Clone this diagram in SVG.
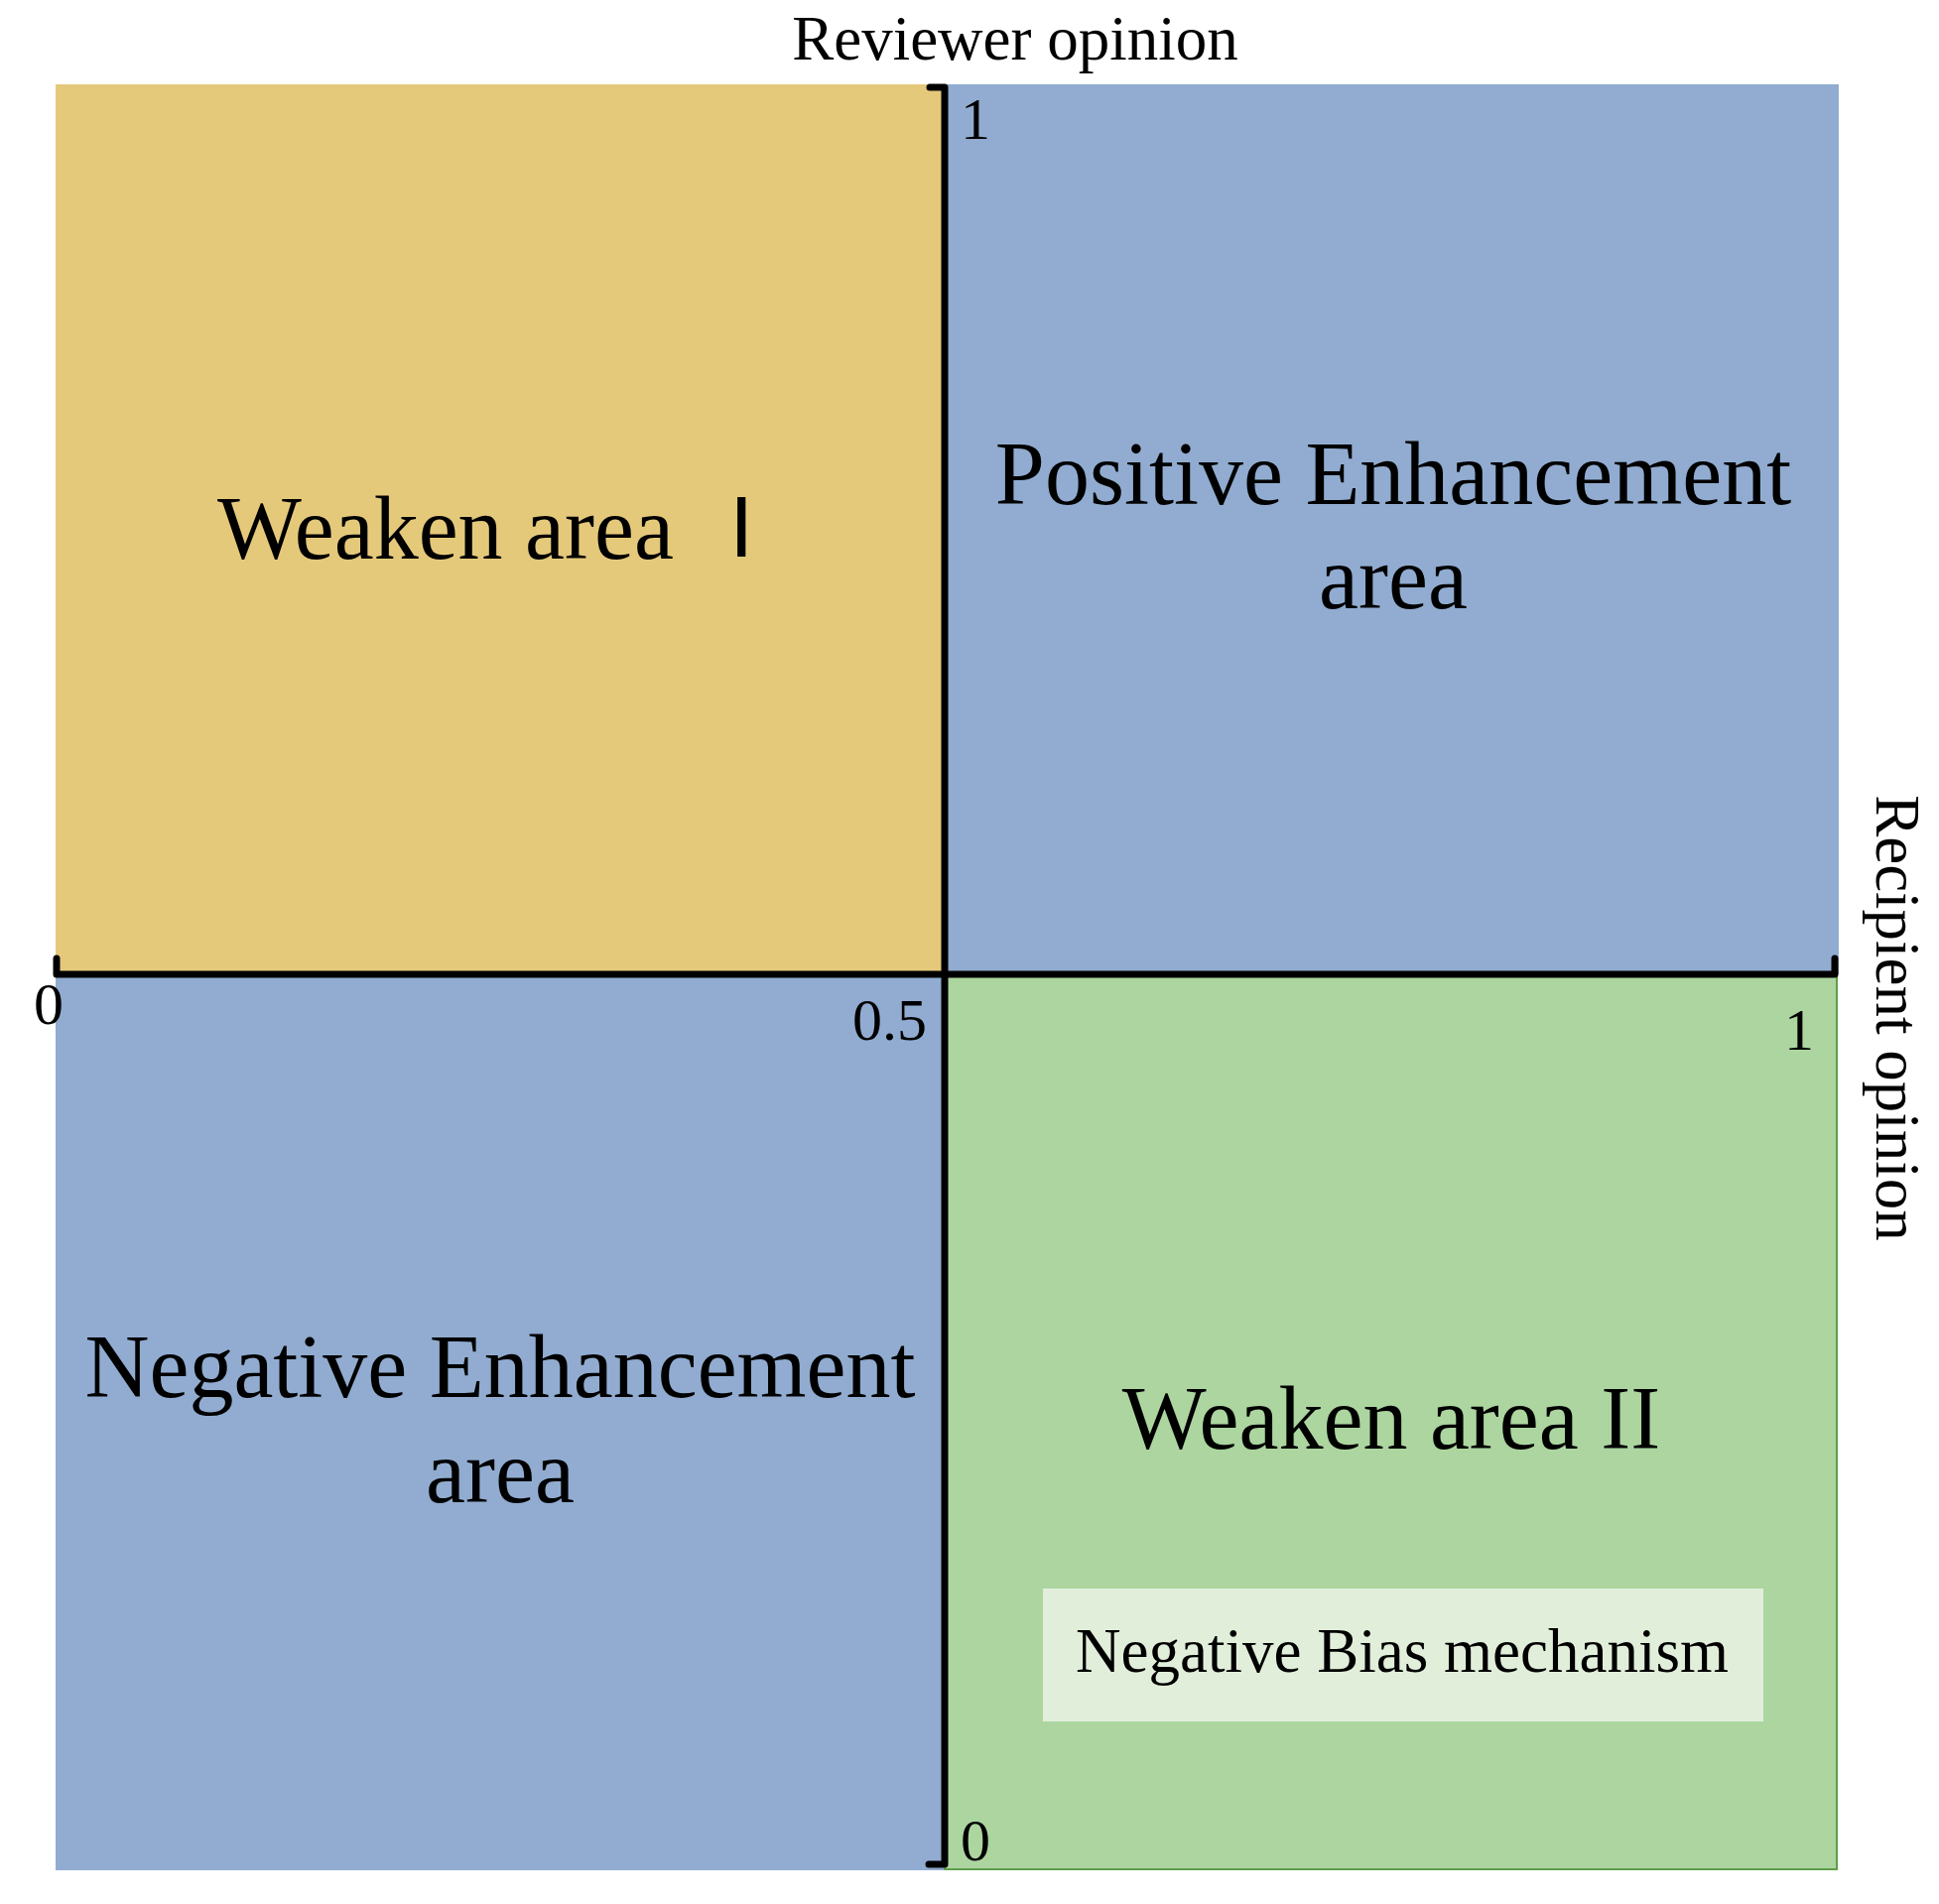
<svg xmlns="http://www.w3.org/2000/svg" width="1954" height="1919" viewBox="0 0 1954 1919">
<style>
.t{font-family:"Liberation Serif","Times New Roman",serif;fill:#000}
.big{font-size:90px}
.mid{font-size:63px}
.tick{font-size:60px}
.axis{fill:none;stroke:#000;stroke-width:7;stroke-linecap:round;stroke-linejoin:round}
</style>
<rect width="1954" height="1919" fill="#fff"/>
<g id="q-weaken1">
<rect x="56" y="85" width="896" height="897" fill="#E5C97B"/>
<text class="t big" x="219" y="563">Weaken area</text>
<text x="735" y="561" style="font-family:'Liberation Sans',Arial,sans-serif;font-size:88px;fill:#000">I</text>
</g>
<g id="q-positive">
<rect x="952" y="85" width="901" height="897" fill="#91ACD0"/>
<text class="t big" x="1404" y="508" text-anchor="middle">Positive Enhancement</text>
<text class="t big" x="1404" y="613" text-anchor="middle">area</text>
</g>
<g id="q-negative">
<rect x="56" y="982" width="896" height="903" fill="#91ACD0"/>
<text class="t big" x="504" y="1408" text-anchor="middle">Negative Enhancement</text>
<text class="t big" x="504" y="1514" text-anchor="middle">area</text>
</g>
<g id="q-weaken2">
<rect x="952" y="982" width="899" height="902" fill="#ACD5A0" stroke="#5E9E4C" stroke-width="2"/>
<text class="t big" x="1402" y="1460" text-anchor="middle">Weaken area II</text>
</g>
<g id="negative-bias">
<rect x="1051" y="1601" width="726" height="134" fill="#E1EFDA"/>
<text class="t mid" x="1413" y="1685" text-anchor="middle">Negative Bias mechanism</text>
</g>
<g id="connectors">
<path class="axis" d="M937,88 H952 V1879 H936"/>
<path class="axis" d="M57,966 V982 H1849 V966"/>
</g>
<g id="labels">
<text class="t mid" x="1023" y="60" text-anchor="middle">Reviewer opinion</text>
<text class="t mid" transform="translate(1891,1026) rotate(90)" text-anchor="middle">Recipient opinion</text>
<text class="t tick" x="968" y="140">1</text>
<text class="t tick" x="34" y="1032">0</text>
<text class="t tick" x="934" y="1048" text-anchor="end">0.5</text>
<text class="t tick" x="1828" y="1058" text-anchor="end">1</text>
<text class="t tick" x="968" y="1875">0</text>
</g>
</svg>
